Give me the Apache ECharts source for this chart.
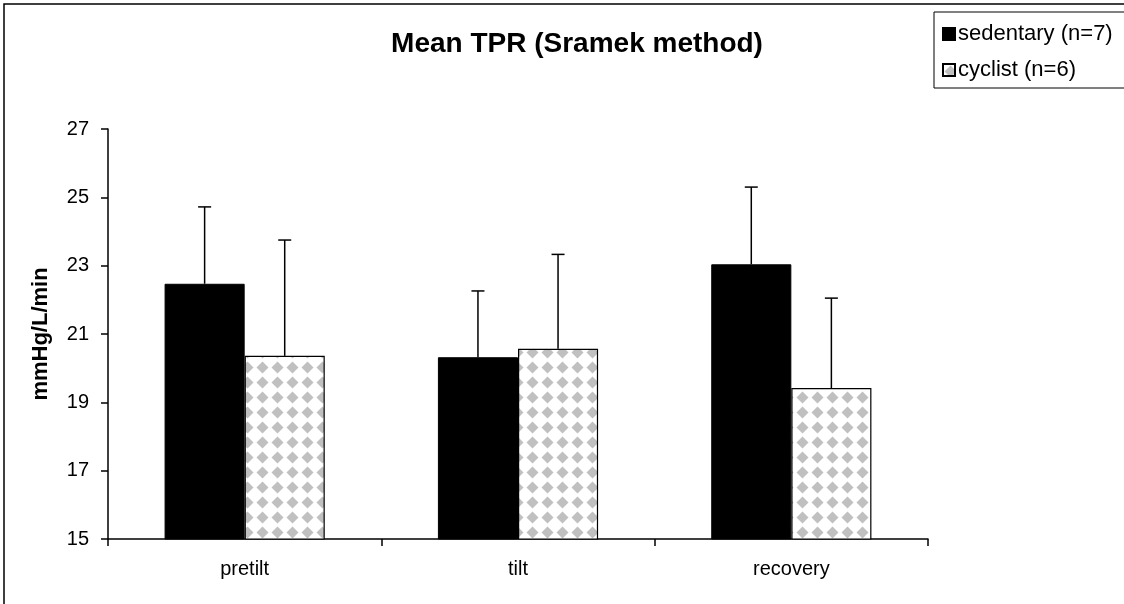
<!DOCTYPE html>
<html><head><meta charset="utf-8">
<script src="https://cdn.jsdelivr.net/npm/echarts@6/dist/echarts.min.js"></script>
<style>html,body{margin:0;padding:0;background:#fff;}#c{width:1124px;height:604px;}</style>
</head><body><div id="c"></div>
<script>
var categories = ['pretilt', 'tilt', 'recovery'];
var seriesNames = ['sedentary (n=7)', 'cyclist (n=6)'];
var sedentaryMean = [22.47, 20.32, 23.04];
var sedentarySE = [2.25, 1.94, 2.26];
var cyclistMean = [20.36, 20.57, 19.42];
var cyclistSE = [3.39, 2.76, 2.63];
var yTicks = [15, 17, 19, 21, 23, 25, 27];

function makePattern() {
  var c = document.createElement('canvas');
  c.width = 15; c.height = 15;
  var g = c.getContext('2d');
  g.fillStyle = '#fff'; g.fillRect(0, 0, 15, 15);
  g.fillStyle = '#c0c0c0';
  g.beginPath();
  g.moveTo(7.5, 1.5); g.lineTo(13.5, 7.5); g.lineTo(7.5, 13.5); g.lineTo(1.5, 7.5); g.closePath();
  g.fill();
  return c;
}
var pattern = { image: makePattern(), repeat: 'repeat' };
var BAR_FRAC = 0.293;

function errData(means, ses) {
  return means.map(function (m, i) { return [i, m, ses[i]]; });
}
function errRender(side) {
  return function (params, api) {
    var idx = api.value(0), m = api.value(1), se = api.value(2);
    var band = api.size([1, 0])[0];
    var off = side * band * BAR_FRAC / 2;
    var p0 = api.coord([idx, m]);
    var p1 = api.coord([idx, m + se]);
    var x = p0[0] + off;
    var st = { stroke: '#000', lineWidth: 1.5 };
    return { type: 'group', children: [
      { type: 'line', shape: { x1: x, y1: p0[1], x2: x, y2: p1[1] }, style: st },
      { type: 'line', shape: { x1: x - 6.5, y1: p1[1], x2: x + 6.5, y2: p1[1] }, style: st }
    ] };
  };
}

var chart = echarts.init(document.getElementById('c'), null, { renderer: 'canvas' });
var font = 'Arial, "Liberation Sans", sans-serif';
chart.setOption({
  animation: false,
  backgroundColor: '#fff',
  textStyle: { fontFamily: font },
  graphic: [
    { type: 'rect', shape: { x: 4, y: 4, width: 1300, height: 800 }, style: { fill: 'none', stroke: '#000', lineWidth: 1.5 }, z: 0 },
    { type: 'rect', shape: { x: 934, y: 12, width: 300, height: 76 }, style: { fill: '#fff', stroke: '#000', lineWidth: 1 }, z: 1 }
  ],
  title: {
    text: 'Mean TPR (Sramek method)', left: 572, top: 25, textAlign: 'center',
    textStyle: { fontSize: 28, fontWeight: 'bold', color: '#000', fontFamily: font }
  },
  legend: {
    data: seriesNames, orient: 'vertical', left: 937, top: 18, itemGap: 14,
    itemWidth: 12, itemHeight: 12, icon: 'rect', z: 5,
    textStyle: { fontSize: 22, color: '#000', fontFamily: font, padding: [0, 0, 0, -2] }
  },
  grid: { left: 108, right: 196, top: 129, bottom: 65 },
  xAxis: {
    type: 'category', data: categories,
    axisLine: { lineStyle: { color: '#000', width: 1.5 } },
    axisTick: { show: true, length: 7, lineStyle: { color: '#000', width: 1.5 } },
    axisLabel: { fontSize: 20, color: '#000', margin: 20, fontFamily: font }
  },
  yAxis: {
    type: 'value', min: 15, max: 27, interval: 2,
    name: 'mmHg/L/min', nameLocation: 'middle', nameGap: 56, nameRotate: 90,
    nameTextStyle: { fontSize: 22, fontWeight: 'bold', color: '#000', fontFamily: font },
    axisLine: { show: true, lineStyle: { color: '#000', width: 1.5 } },
    axisTick: { show: true, length: 7, lineStyle: { color: '#000', width: 1.5 } },
    axisLabel: { fontSize: 20, color: '#000', margin: 19, fontFamily: font,
      formatter: function (v) { return yTicks.indexOf(v) >= 0 ? String(v) : ''; } },
    splitLine: { show: false }
  },
  series: [
    { name: seriesNames[0], type: 'bar', data: sedentaryMean, barWidth: (BAR_FRAC * 100) + '%', barGap: '0%',
      itemStyle: { color: '#000', borderColor: '#000', borderWidth: 1 } },
    { name: seriesNames[1], type: 'bar', data: cyclistMean, barWidth: (BAR_FRAC * 100) + '%', barGap: '0%',
      itemStyle: { color: pattern, borderColor: '#000', borderWidth: 1.2 } },
    { type: 'custom', name: 'err0', data: errData(sedentaryMean, sedentarySE), renderItem: errRender(-1), z: 3, silent: true },
    { type: 'custom', name: 'err1', data: errData(cyclistMean, cyclistSE), renderItem: errRender(1), z: 3, silent: true }
  ]
});
</script></body></html>
